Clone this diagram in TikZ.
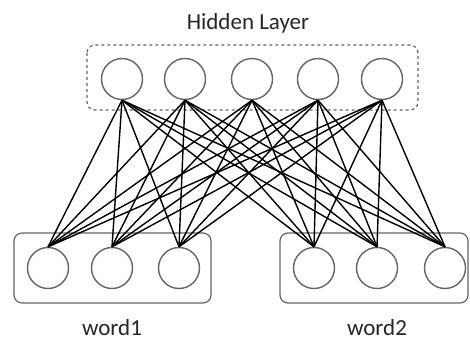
\documentclass[tikz,border=0pt]{standalone}
\usepackage{fontspec}
\setmainfont{Carlito}

\begin{document}
\begin{tikzpicture}[x=1pt,y=-1pt,
    neuron/.style={circle,draw=black!60,line width=1.4pt,minimum size=41pt,inner sep=0pt},
    layerbox/.style={draw=black!60,line width=1.2pt,rounded corners=8pt},
    wire/.style={black,line width=1.4pt},
    caption/.style={font=\fontsize{23}{26}\selectfont,text=black!85}]
    \useasboundingbox (0,0) rectangle (470,342);
    % hidden layer
    \begin{scope}
	\draw[layerbox,dashed] (87,45) rectangle (418,110);
	\node[caption] (hidden) at (248,23) {Hidden Layer};
	\foreach \x [count=\i] in {122,185,252,318,382}
	    \node[neuron] (h\i) at (\x,79) {};
    \end{scope}
    % word1
    \begin{scope}
	\draw[layerbox] (14,233) rectangle (211,303);
	\foreach \x [count=\i] in {48,112,179}
	    \node[neuron] (a\i) at (\x,268) {};
	\node[caption] (word1) at (112,328) {word1};
    \end{scope}
    % word2
    \begin{scope}
	\draw[layerbox] (280,233) rectangle (468,303);
	\foreach \x [count=\i] in {314,377,445}
	    \node[neuron] (b\i) at (\x,268) {};
	\node[caption] (word2) at (377,328) {word2};
    \end{scope}
    % connections
    \foreach \i in {1,2,3}
	\foreach \j in {1,...,5} {
	    \draw[wire] (a\i.north) -- (h\j.south);
	    \draw[wire] (b\i.north) -- (h\j.south);
	}
\end{tikzpicture}
\end{document}
